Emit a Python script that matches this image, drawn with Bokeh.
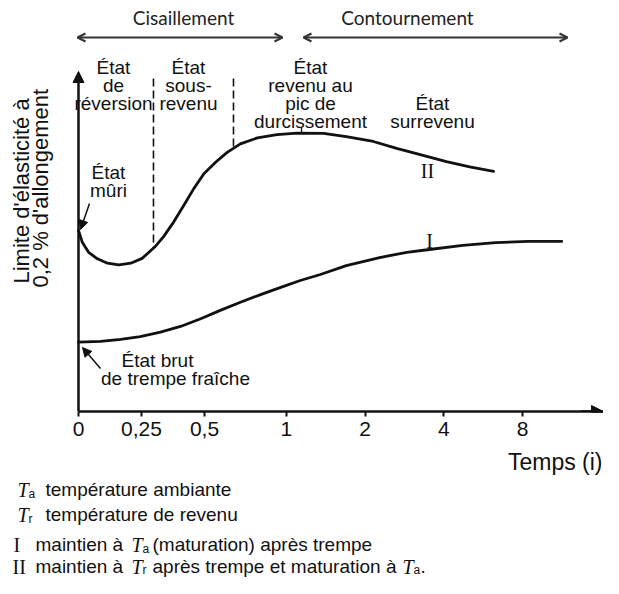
import numpy as np
from math import pi
from bokeh.plotting import figure
from bokeh.layouts import column
from bokeh.models import Range1d, FixedTicker, Label, Arrow, NormalHead, OpenHead
from bokeh.embed import file_html
from bokeh.resources import INLINE

# ---------------- data ----------------
# time axis is non-uniform: positions of the tick marks along the axis, and their labels
tick_pos = [0, 1, 2, 3.3, 4.55, 5.8, 7.05]
tick_labels = ["0", "0,25", "0,5", "1", "2", "4", "8"]

# curve II : maintien a Tr apres trempe et maturation a Ta (axis position, relative yield strength)
curve2_x = [0, 0.06, 0.16, 0.30, 0.46, 0.64, 0.83, 1.01, 1.21, 1.35, 1.51, 1.67, 1.83, 1.99,
            2.18, 2.36, 2.57, 2.84, 3.15, 3.47, 3.89, 4.25, 4.68, 5.05, 5.41, 5.84, 6.21, 6.59]
curve2_y = [44.9, 42.0, 39.5, 37.9, 36.8, 36.4, 36.8, 38.0, 40.8, 43.4, 47.0, 51.1, 55.3, 59.0,
            61.9, 64.3, 66.4, 67.9, 68.7, 69.1, 69.0, 68.2, 67.0, 65.3, 63.8, 62.0, 60.7, 59.6]

# curve I : maintien a Ta (maturation) apres trempe
curve1_x = [0, 0.35, 0.67, 0.98, 1.30, 1.62, 1.94, 2.25, 2.57, 2.89, 3.21, 3.52, 3.84, 4.25,
            4.78, 5.21, 5.57, 6.10, 6.62, 7.14, 7.67]
curve1_y = [17.2, 17.4, 17.9, 18.6, 19.7, 21.1, 23.0, 25.1, 27.1, 29.0, 30.8, 32.5, 34.0, 36.2,
            38.2, 39.5, 40.2, 41.2, 41.9, 42.2, 42.2]

# boundaries between the states (dashed lines)
boundary_x = [1.19, 2.46]
# peak-hardness pointer
peak_x = 3.54

# ---------------- layout helpers (reference pixel -> data) ----------------
X0_PX, PX_PER_X = 78.0, 63.0
Y0_PX, PX_PER_Y = 411.0, 4.03


def X(px):
    return (px - X0_PX) / PX_PER_X


def Y(py):
    return (Y0_PX - py) / PX_PER_Y


W, H = 603, 578
H1 = 447
xr = Range1d(X(0), X(W))

p = figure(width=W, height=H1, output_backend="svg", toolbar_location=None,
           x_range=xr, y_range=Range1d(0, Y(0)),
           y_axis_location=None, x_axis_location="below",
           min_border_left=0, min_border_right=0, min_border_top=0,
           min_border_bottom=H1 - 411)
p.grid.visible = False
p.outline_line_color = None
p.background_fill_color = "white"
p.border_fill_color = "white"

ax = p.xaxis[0]
ax.ticker = FixedTicker(ticks=tick_pos)
ax.major_label_overrides = dict(zip(tick_pos, tick_labels))
ax.bounds = (0, X(W))
ax.axis_line_width = 2.5
ax.axis_line_color = "#111111"
ax.major_tick_in = 0
ax.major_tick_out = 5
ax.major_tick_line_width = 2
ax.major_tick_line_color = "#111111"
ax.minor_tick_line_color = None
ax.major_label_text_font = "Liberation Sans"
ax.major_label_text_font_size = "21px"
ax.major_label_text_color = "#111111"
ax.major_label_standoff = 5

# notes figure under the chart (same x scale)
q = figure(width=W, height=H - H1, output_backend="svg", toolbar_location=None,
           x_range=xr, y_range=Range1d(Y(H), Y(H1)),
           x_axis_location=None, y_axis_location=None,
           min_border_left=0, min_border_right=0, min_border_top=0, min_border_bottom=0)
q.grid.visible = False
q.outline_line_color = None
q.background_fill_color = "white"
q.border_fill_color = "white"

# axes arrows
p.add_layout(Arrow(x_start=0, y_start=0, x_end=0, y_end=Y(71), line_width=2.5, line_color="#111111",
                   end=NormalHead(size=11, fill_color="#111111", line_color="#111111")))
p.add_layout(Arrow(x_start=X(580), y_start=0, x_end=X(W), y_end=0, line_width=2.5, line_color="#111111",
                   end=NormalHead(size=12, fill_color="#111111", line_color="#111111")))

# dashed boundaries
bx = np.array(boundary_x)
p.segment(x0=bx, y0=[Y(78)] * len(bx), x1=bx, y1=np.interp(bx, curve2_x, curve2_y),
          line_width=1.6, line_dash="8 4", line_color="#111111")
# peak pointer
p.segment(x0=[peak_x], y0=[Y(127)], x1=[peak_x], y1=[np.interp(peak_x, curve2_x, curve2_y)],
          line_width=1.3, line_color="#111111")

# curves
p.line(curve2_x, curve2_y, line_width=2.8, line_color="#111111", line_join="round", line_cap="round")
p.line(curve1_x, curve1_y, line_width=2.8, line_color="#111111", line_join="round", line_cap="round")


def lab(fig, text, px, py, size, font="Liberation Sans", align="center", baseline="alphabetic",
        style="normal", color="#111111", angle=0):
    fig.add_layout(Label(x=X(px), y=Y(py), text=text, text_font=font, text_font_size=f"{size}px",
                         text_align=align, text_baseline=baseline, text_font_style=style,
                         text_color=color, angle=angle))


# mechanisms arrows at top
for (a, b) in [(77, 282), (303, 567)]:
    p.add_layout(Arrow(x_start=X(a), y_start=Y(37), x_end=X(b), y_end=Y(37), line_width=2,
                       line_color="#333333",
                       start=OpenHead(size=8, line_width=2, line_color="#333333"),
                       end=OpenHead(size=8, line_width=2, line_color="#333333")))
lab(p, "Cisaillement", 183, 17, 19, font="Lato", color="#222222")
lab(p, "Contournement", 407, 17, 19, font="Lato", color="#222222")

# state labels
state_lines = [("État", 113, 67), ("de", 113, 85), ("réversion", 113, 103),
               ("État", 188, 67), ("sous-", 188, 85), ("revenu", 188, 103),
               ("État", 310, 67), ("revenu au", 310, 85), ("pic de", 310, 103), ("durcissement", 310, 121),
               ("État", 432, 103), ("surrevenu", 432, 121),
               ("État", 108, 172), ("mûri", 108, 190),
               ("État brut", 157, 360), ("de trempe fraîche", 175, 378)]
for t, px, py in state_lines:
    lab(p, t, px, py, 19)

# pointers
p.add_layout(Arrow(x_start=X(89), y_start=Y(203), x_end=X(80), y_end=Y(229), line_width=1.5,
                   line_color="#111111", end=NormalHead(size=9, fill_color="#111111", line_color="#111111")))
p.add_layout(Arrow(x_start=X(100), y_start=Y(368), x_end=X(82), y_end=Y(347), line_width=1.5,
                   line_color="#111111", end=NormalHead(size=9, fill_color="#111111", line_color="#111111")))

# curve names
lab(p, "II", 427, 170, 20, font="Liberation Serif")
lab(p, "I", 429, 240, 20, font="Liberation Serif")

# axis titles
lab(q, "Temps (i)", 602, 461, 23, align="right")
lab(p, "Limite d'élasticité à", 21, 283, 22, align="left", baseline="middle", angle=pi / 2)
lab(p, "0,2 % d'allongement", 40, 287, 22, align="left", baseline="middle", angle=pi / 2)

# notes under the chart
serif_it = dict(font="Liberation Serif", style="italic")
notes = [
    [("T", 17, 489, 20, serif_it), ("a", 28, 493, 12, {}), ("température ambiante", 45, 489, 19, {})],
    [("T", 17, 514, 20, serif_it), ("r", 28, 518, 12, {}), ("température de revenu", 45, 514, 19, {})],
    [("I", 13, 544, 20, dict(font="Liberation Serif")), ("maintien à", 35, 544, 19, {}),
     ("T", 131, 544, 20, serif_it), ("a", 142, 548, 12, {}), ("(maturation) après trempe", 152, 544, 19, {})],
    [("II", 12, 566, 20, dict(font="Liberation Serif")), ("maintien à", 35, 566, 19, {}),
     ("T", 131, 566, 20, serif_it), ("r", 142, 569, 12, {}), ("après trempe et maturation à", 152, 566, 19, {}),
     ("T", 402, 566, 20, serif_it), ("a", 413, 569, 12, {}), (".", 420, 566, 19, {})],
]
for line in notes:
    for t, px, py, sz, kw in line:
        lab(q, t, px, py, sz, align="left", **kw)

layout = column(p, q, spacing=0)
open("out.html", "w").write(file_html(layout, INLINE))
